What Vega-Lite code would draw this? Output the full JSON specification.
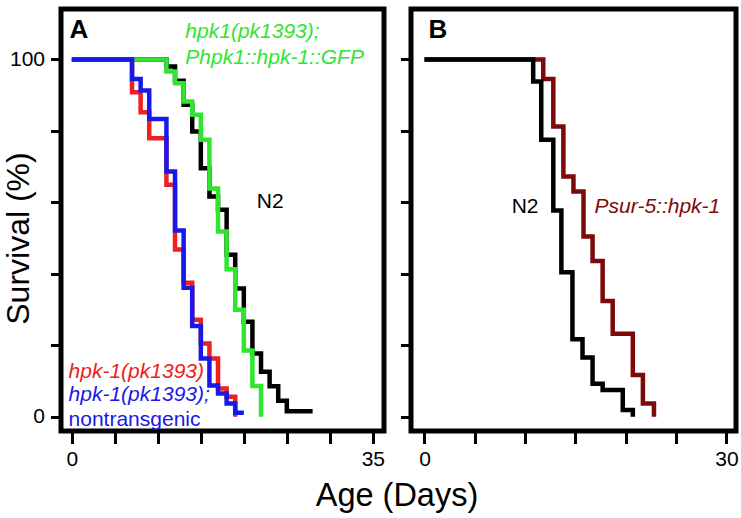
{
  "$schema": "https://vega.github.io/schema/vega-lite/v6.json",
  "background": "white",
  "padding": {"left": 0, "top": 6, "right": 3, "bottom": 3},
  "config": {
    "font": "Liberation Sans",
    "view": {"stroke": "black", "strokeWidth": 5},
    "axis": {"domain": false, "grid": false, "tickColor": "black", "tickWidth": 3, "labelFont": "Liberation Sans", "labelFontSize": 21, "labelColor": "black", "titleColor": "black", "titleFontWeight": "normal", "titleFont": "Liberation Sans", "labelOverlap": false, "labelFlush": false}
  },
  "datasets": {
    "curvesA": [
      {"strain": "N2", "day": 0, "surv": 100}, {"strain": "N2", "day": 11, "surv": 98}, {"strain": "N2", "day": 12, "surv": 94}, {"strain": "N2", "day": 13, "surv": 87.3}, {"strain": "N2", "day": 14, "surv": 79.8}, {"strain": "N2", "day": 15, "surv": 69.5}, {"strain": "N2", "day": 16, "surv": 61.6}, {"strain": "N2", "day": 17, "surv": 57.9}, {"strain": "N2", "day": 18, "surv": 45.3}, {"strain": "N2", "day": 19, "surv": 35.9}, {"strain": "N2", "day": 20, "surv": 26.6}, {"strain": "N2", "day": 21, "surv": 17.7}, {"strain": "N2", "day": 22, "surv": 12.6}, {"strain": "N2", "day": 23, "surv": 8.5}, {"strain": "N2", "day": 24, "surv": 4.5}, {"strain": "N2", "day": 25, "surv": 1.5}, {"strain": "N2", "day": 28, "surv": 1.5},
      {"strain": "hpk1(pk1393); Phpk1::hpk-1::GFP", "day": 0, "surv": 100}, {"strain": "hpk1(pk1393); Phpk1::hpk-1::GFP", "day": 11, "surv": 96.6}, {"strain": "hpk1(pk1393); Phpk1::hpk-1::GFP", "day": 12, "surv": 93.3}, {"strain": "hpk1(pk1393); Phpk1::hpk-1::GFP", "day": 13, "surv": 88.2}, {"strain": "hpk1(pk1393); Phpk1::hpk-1::GFP", "day": 14, "surv": 84.5}, {"strain": "hpk1(pk1393); Phpk1::hpk-1::GFP", "day": 15, "surv": 77.5}, {"strain": "hpk1(pk1393); Phpk1::hpk-1::GFP", "day": 16, "surv": 63.9}, {"strain": "hpk1(pk1393); Phpk1::hpk-1::GFP", "day": 17, "surv": 51.8}, {"strain": "hpk1(pk1393); Phpk1::hpk-1::GFP", "day": 18, "surv": 41.3}, {"strain": "hpk1(pk1393); Phpk1::hpk-1::GFP", "day": 19, "surv": 29.9}, {"strain": "hpk1(pk1393); Phpk1::hpk-1::GFP", "day": 20, "surv": 18.5}, {"strain": "hpk1(pk1393); Phpk1::hpk-1::GFP", "day": 21, "surv": 8.6}, {"strain": "hpk1(pk1393); Phpk1::hpk-1::GFP", "day": 22, "surv": 0},
      {"strain": "hpk-1(pk1393)", "day": 0, "surv": 100}, {"strain": "hpk-1(pk1393)", "day": 7, "surv": 90.8}, {"strain": "hpk-1(pk1393)", "day": 8, "surv": 85.2}, {"strain": "hpk-1(pk1393)", "day": 9, "surv": 77.9}, {"strain": "hpk-1(pk1393)", "day": 11, "surv": 64.9}, {"strain": "hpk-1(pk1393)", "day": 12, "surv": 46.8}, {"strain": "hpk-1(pk1393)", "day": 13, "surv": 37.5}, {"strain": "hpk-1(pk1393)", "day": 14, "surv": 27.1}, {"strain": "hpk-1(pk1393)", "day": 15, "surv": 20.5}, {"strain": "hpk-1(pk1393)", "day": 16, "surv": 16.3}, {"strain": "hpk-1(pk1393)", "day": 17, "surv": 7.9}, {"strain": "hpk-1(pk1393)", "day": 18, "surv": 5.6}, {"strain": "hpk-1(pk1393)", "day": 19, "surv": 0},
      {"strain": "hpk-1(pk1393); nontransgenic", "day": 0, "surv": 100}, {"strain": "hpk-1(pk1393); nontransgenic", "day": 7, "surv": 94.5}, {"strain": "hpk-1(pk1393); nontransgenic", "day": 8, "surv": 91.3}, {"strain": "hpk-1(pk1393); nontransgenic", "day": 9, "surv": 83.3}, {"strain": "hpk-1(pk1393); nontransgenic", "day": 11, "surv": 68.6}, {"strain": "hpk-1(pk1393); nontransgenic", "day": 12, "surv": 52.1}, {"strain": "hpk-1(pk1393); nontransgenic", "day": 13, "surv": 36.1}, {"strain": "hpk-1(pk1393); nontransgenic", "day": 14, "surv": 25.4}, {"strain": "hpk-1(pk1393); nontransgenic", "day": 15, "surv": 16.3}, {"strain": "hpk-1(pk1393); nontransgenic", "day": 16, "surv": 8.7}, {"strain": "hpk-1(pk1393); nontransgenic", "day": 17, "surv": 6.5}, {"strain": "hpk-1(pk1393); nontransgenic", "day": 18, "surv": 3.7}, {"strain": "hpk-1(pk1393); nontransgenic", "day": 19, "surv": 1.1}, {"strain": "hpk-1(pk1393); nontransgenic", "day": 20, "surv": 1.1}
    ],
    "curvesB": [
      {"strain": "Psur-5::hpk-1", "day": 0, "surv": 100}, {"strain": "Psur-5::hpk-1", "day": 11.8, "surv": 94.5}, {"strain": "Psur-5::hpk-1", "day": 12.8, "surv": 81.2}, {"strain": "Psur-5::hpk-1", "day": 13.8, "surv": 67.2}, {"strain": "Psur-5::hpk-1", "day": 14.8, "surv": 63}, {"strain": "Psur-5::hpk-1", "day": 15.8, "surv": 50.4}, {"strain": "Psur-5::hpk-1", "day": 16.7, "surv": 43.6}, {"strain": "Psur-5::hpk-1", "day": 17.7, "surv": 32.4}, {"strain": "Psur-5::hpk-1", "day": 18.7, "surv": 23.2}, {"strain": "Psur-5::hpk-1", "day": 20.7, "surv": 11.7}, {"strain": "Psur-5::hpk-1", "day": 21.7, "surv": 3.7}, {"strain": "Psur-5::hpk-1", "day": 22.8, "surv": 0},
      {"strain": "N2", "day": 0, "surv": 100}, {"strain": "N2", "day": 10.8, "surv": 93.8}, {"strain": "N2", "day": 11.6, "surv": 77.5}, {"strain": "N2", "day": 12.8, "surv": 57.7}, {"strain": "N2", "day": 13.6, "surv": 40.4}, {"strain": "N2", "day": 14.7, "surv": 21.7}, {"strain": "N2", "day": 15.7, "surv": 16.6}, {"strain": "N2", "day": 16.7, "surv": 9.2}, {"strain": "N2", "day": 17.7, "surv": 7.5}, {"strain": "N2", "day": 19.7, "surv": 1.9}, {"strain": "N2", "day": 20.7, "surv": 0}
    ],
    "italicA": [
      {"label": "hpk1(pk1393);", "day": 13.2, "surv": 107.7, "strain": "hpk1(pk1393); Phpk1::hpk-1::GFP"},
      {"label": "Phpk1::hpk-1::GFP", "day": 13.2, "surv": 100.4, "strain": "hpk1(pk1393); Phpk1::hpk-1::GFP"},
      {"label": "hpk-1(pk1393)", "day": -0.38, "surv": 12.6, "strain": "hpk-1(pk1393)"},
      {"label": "hpk-1(pk1393);", "day": -0.38, "surv": 6.1, "strain": "hpk-1(pk1393); nontransgenic"}
    ],
    "plainA": [
      {"label": "N2", "day": 21.5, "surv": 60.2, "strain": "N2"},
      {"label": "nontransgenic", "day": -0.38, "surv": -0.9, "strain": "hpk-1(pk1393); nontransgenic"}
    ],
    "italicB": [
      {"label": "Psur-5::hpk-1", "day": 16.9, "surv": 58.7, "strain": "Psur-5::hpk-1"}
    ],
    "plainB": [
      {"label": "N2", "day": 8.66, "surv": 58.8, "strain": "N2"}
    ],
    "letterA": [{"label": "A", "day": -0.27, "surv": 108.3}],
    "letterB": [{"label": "B", "day": 0.4, "surv": 108.3}]
  },
  "spacing": 27,
  "bounds": "flush",
  "hconcat": [
    {
      "width": 323,
      "height": 422,
      "encoding": {
        "x": {"field": "day", "type": "quantitative", "scale": {"domain": [-1.26, 36.3], "nice": false, "zero": false}, "axis": {"values": [0, 5, 10, 15, 20, 25, 30, 35], "labelExpr": "datum.value == 0 || datum.value == 35 ? datum.label : ''", "tickSize": 12.5, "labelPadding": 5, "title": "Age (Days)", "titleFontSize": 32.5, "titleX": 335.5, "titleY": 74, "titleAlign": "center", "titleBaseline": "alphabetic", "titleAnchor": null}},
        "y": {"field": "surv", "type": "quantitative", "scale": {"domain": [-4, 114.1], "nice": false, "zero": false}, "axis": {"values": [0, 20, 40, 60, 80, 100], "labelExpr": "datum.value == 0 || datum.value == 100 ? datum.label : ''", "tickSize": 10.5, "labelPadding": 6, "title": "Survival (%)", "titleFontSize": 32, "titleX": -32.5, "titleY": 229, "titleAlign": "center", "titleBaseline": "alphabetic", "titleAngle": 270}}
      },
      "layer": [
        {
          "data": {"name": "curvesA"},
          "mark": {"type": "line", "interpolate": "step-after", "strokeWidth": 4.5, "strokeJoin": "miter", "strokeCap": "butt"},
          "encoding": {"color": {"field": "strain", "type": "nominal", "scale": {"domain": ["N2", "hpk-1(pk1393)", "hpk-1(pk1393); nontransgenic", "hpk1(pk1393); Phpk1::hpk-1::GFP", "Psur-5::hpk-1"], "range": ["#000000", "#ee2020", "#1818e8", "#2ee62e", "#7d0a0a"]}, "legend": null}}
        },
        {
          "data": {"name": "italicA"},
          "mark": {"type": "text", "fontStyle": "italic", "fontSize": 21, "align": "left", "baseline": "middle", "font": "Liberation Sans"},
          "encoding": {"text": {"field": "label"}, "color": {"field": "strain", "type": "nominal", "legend": null}}
        },
        {
          "data": {"name": "plainA"},
          "mark": {"type": "text", "fontSize": 21, "align": "left", "baseline": "middle", "font": "Liberation Sans"},
          "encoding": {"text": {"field": "label"}, "color": {"field": "strain", "type": "nominal", "legend": null}}
        },
        {
          "data": {"name": "letterA"},
          "mark": {"type": "text", "fontSize": 26, "fontWeight": "bold", "align": "left", "baseline": "middle", "color": "black", "font": "Liberation Sans"},
          "encoding": {"text": {"field": "label"}}
        }
      ]
    },
    {
      "width": 325,
      "height": 422,
      "encoding": {
        "x": {"field": "day", "type": "quantitative", "scale": {"domain": [-1.34, 30.95], "nice": false, "zero": false}, "axis": {"values": [0, 5, 10, 15, 20, 25, 30], "labelExpr": "datum.value == 0 || datum.value == 30 ? datum.label : ''", "tickSize": 12.5, "labelPadding": 5, "title": null}},
        "y": {"field": "surv", "type": "quantitative", "scale": {"domain": [-4, 114.1], "nice": false, "zero": false}, "axis": {"values": [0, 20, 40, 60, 80, 100], "labels": false, "tickSize": 10.5, "title": null}}
      },
      "layer": [
        {
          "data": {"name": "curvesB"},
          "mark": {"type": "line", "interpolate": "step-after", "strokeWidth": 4.5, "strokeJoin": "miter", "strokeCap": "butt"},
          "encoding": {"color": {"field": "strain", "type": "nominal", "scale": {"domain": ["N2", "hpk-1(pk1393)", "hpk-1(pk1393); nontransgenic", "hpk1(pk1393); Phpk1::hpk-1::GFP", "Psur-5::hpk-1"], "range": ["#000000", "#ee2020", "#1818e8", "#2ee62e", "#7d0a0a"]}, "legend": null}}
        },
        {
          "data": {"name": "italicB"},
          "mark": {"type": "text", "fontStyle": "italic", "fontSize": 21, "align": "left", "baseline": "middle", "font": "Liberation Sans"},
          "encoding": {"text": {"field": "label"}, "color": {"field": "strain", "type": "nominal", "legend": null}}
        },
        {
          "data": {"name": "plainB"},
          "mark": {"type": "text", "fontSize": 21, "align": "left", "baseline": "middle", "font": "Liberation Sans"},
          "encoding": {"text": {"field": "label"}, "color": {"field": "strain", "type": "nominal", "legend": null}}
        },
        {
          "data": {"name": "letterB"},
          "mark": {"type": "text", "fontSize": 26, "fontWeight": "bold", "align": "left", "baseline": "middle", "color": "black", "font": "Liberation Sans"},
          "encoding": {"text": {"field": "label"}}
        }
      ]
    }
  ]
}
